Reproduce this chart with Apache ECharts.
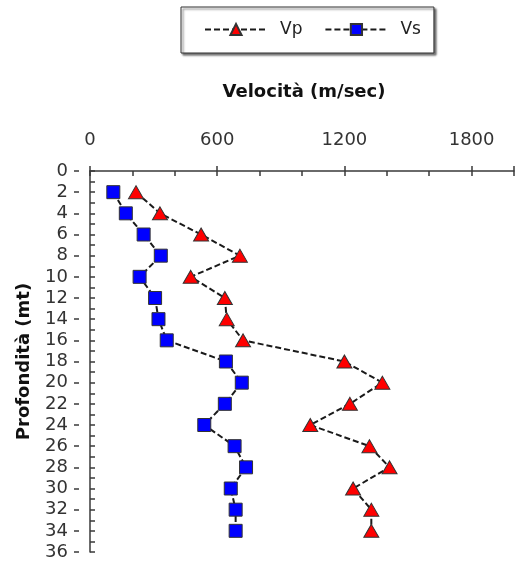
<!DOCTYPE html>
<html>
<head>
<meta charset="utf-8">
<script src="https://cdn.jsdelivr.net/npm/echarts@6/dist/echarts.min.js"></script>
<style>html,body{margin:0;padding:0;background:#fff;}#c{width:517px;height:564px;}</style>
</head>
<body>
<div id="c"></div>
<script>
const depths = [2, 4, 6, 8, 10, 12, 14, 16, 18, 20, 22, 24, 26, 28, 30, 32, 34];
const vp = [217, 330, 524, 707, 475, 636, 645, 722, 1200, 1379, 1226, 1039, 1318, 1413, 1241, 1327, 1327];
const vs = [110, 169, 253, 334, 234, 307, 323, 362, 641, 716, 636, 539, 682, 736, 664, 687, 687];
const xTickLabels = [0, 600, 1200, 1800];
const yTickLabels = [0, 2, 4, 6, 8, 10, 12, 14, 16, 18, 20, 22, 24, 26, 28, 30, 32, 34, 36];

const FONT = 'DejaVu Sans';
const AX = '#3a3a3a';
const GRID_H = 381, GRID_W = 435;

const chart = echarts.init(document.getElementById('c'), null, {renderer: 'canvas'});
chart.setOption({
  animation: false,
  backgroundColor: '#fff',
  title: {
    text: 'Velocità (m/sec)',
    left: 299, top: 78, textAlign: 'center',
    textStyle: {fontFamily: FONT, fontSize: 18, fontWeight: 'bold', color: '#111'}
  },
  legend: {
    data: ['Vp', 'Vs'],
    left: 181, top: 7,
    padding: [14, 13, 15, 23],
    itemWidth: 62, itemHeight: 14, itemGap: 22,
    borderColor: '#333', borderWidth: 1,
    backgroundColor: '#fff',
    shadowColor: 'rgba(0,0,0,0.55)', shadowOffsetX: 2, shadowOffsetY: 2, shadowBlur: 2,
    textStyle: {fontFamily: FONT, fontSize: 17, color: '#222', padding: [0, 0, 0, 8]}
  },
  grid: {left: 90, top: 171, width: GRID_W, height: GRID_H, containLabel: false},
  xAxis: [
    {
      type: 'value', position: 'top', min: 0, max: 2000, interval: 200,
      axisLine: {show: true, onZero: false, lineStyle: {color: AX, width: 1.5}},
      axisTick: {show: true, inside: true, length: 5, lineStyle: {color: AX, width: 1.5}},
      axisLabel: {
        margin: 22, fontFamily: FONT, fontSize: 18, color: '#333',
        formatter: v => xTickLabels.indexOf(v) >= 0 ? String(v) : ''
      },
      splitLine: {show: false}
    },
    {
      type: 'value', position: 'bottom', offset: -GRID_H, min: 0, max: 2000, interval: 600,
      axisLine: {show: false, onZero: false},
      axisTick: {show: true, inside: true, length: 5, lineStyle: {color: AX, width: 1.5}},
      axisLabel: {show: false},
      splitLine: {show: false}
    }
  ],
  yAxis: [
    {
      type: 'value', position: 'left', inverse: true, min: 0, max: 36, interval: 1,
      name: 'Profondità (mt)', nameLocation: 'middle', nameGap: 57,
      nameTextStyle: {fontFamily: FONT, fontSize: 18, fontWeight: 'bold', color: '#111'},
      axisLine: {show: true, onZero: false, lineStyle: {color: AX, width: 1.5}},
      axisTick: {show: true, inside: true, length: 5, lineStyle: {color: AX, width: 1.5}},
      axisLabel: {
        margin: 22, fontFamily: FONT, fontSize: 18, color: '#333',
        formatter: v => yTickLabels.indexOf(v) >= 0 ? String(v) : ''
      },
      splitLine: {show: false}
    },
    {
      type: 'value', position: 'right', offset: -GRID_W, inverse: true, min: 0, max: 36, interval: 2,
      axisLine: {show: false, onZero: false},
      axisTick: {show: true, inside: true, length: 5, lineStyle: {color: AX, width: 1.5}},
      axisLabel: {show: false},
      splitLine: {show: false}
    }
  ],
  series: [
    {
      name: 'Vp', type: 'line', xAxisIndex: 0, yAxisIndex: 0,
      data: depths.map((d, i) => [vp[i], d]),
      symbol: 'triangle', symbolSize: [15, 13],
      itemStyle: {color: '#ff0000', borderColor: '#333', borderWidth: 1},
      lineStyle: {color: '#1a1a1a', width: 2, type: [6, 3]},
      z: 3
    },
    {
      name: 'Vs', type: 'line', xAxisIndex: 0, yAxisIndex: 0,
      data: depths.map((d, i) => [vs[i], d]),
      symbol: 'rect', symbolSize: 13,
      itemStyle: {color: '#0000ff', borderColor: '#333', borderWidth: 1},
      lineStyle: {color: '#1a1a1a', width: 2, type: [6, 3]},
      z: 2
    }
  ]
});
</script>
</body>
</html>
